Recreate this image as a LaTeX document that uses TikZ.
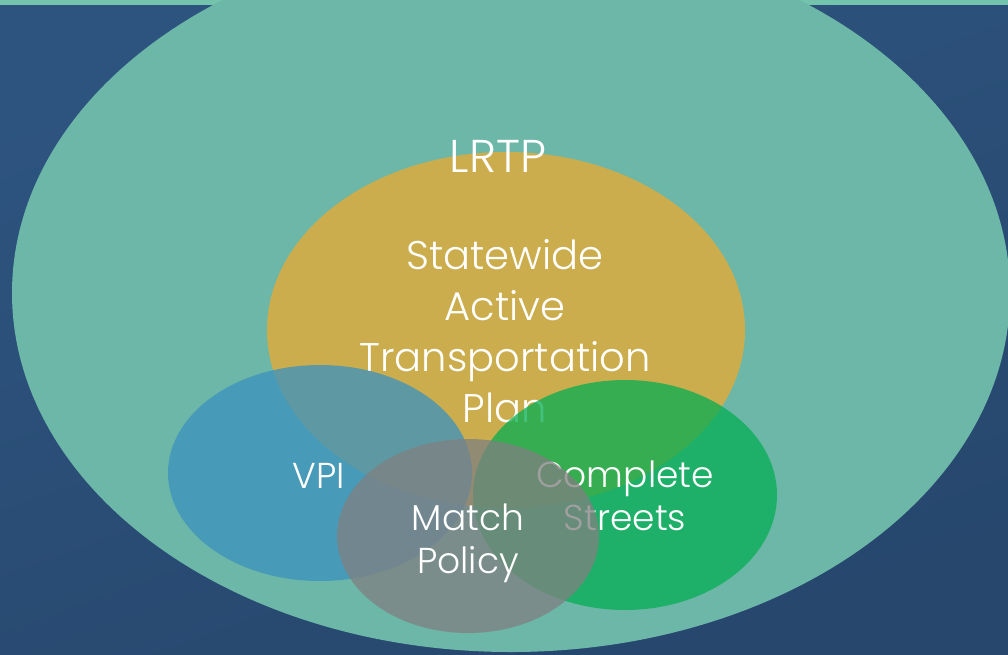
\documentclass[tikz,border=0pt]{standalone}
\usepackage{fontspec}
\setmainfont{Poppins Light}
\usepackage{tikz}
\usetikzlibrary{shapes.geometric}

\definecolor{bgtop}{RGB}{45,84,127}
\definecolor{bgbot}{RGB}{39,71,109}
\definecolor{stripcol}{RGB}{116,195,173}
\definecolor{tealcol}{RGB}{108,183,168}
\definecolor{yellowcol}{RGB}{203,173,78}
\definecolor{bluecol}{RGB}{60,147,190}
\definecolor{greencol}{RGB}{5,174,83}
\definecolor{graycol}{RGB}{128,128,128}

\tikzset{
  blob/.style={ellipse, inner sep=0pt, draw=none},
  lbl/.style={text=white, align=center, anchor=base, inner sep=0pt},
  big/.style={font=\fontsize{40}{51}\selectfont},
  small/.style={font=\fontsize{36}{43}\selectfont}
}

\begin{document}
\begin{tikzpicture}[x=1pt,y=-1pt]
\useasboundingbox (0,0) rectangle (1008,654);
\clip (0,0) rectangle (1008,654);

% Background
\shade[top color=bgtop, bottom color=bgbot, shading angle=20] (0,0) rectangle (1008,654);
\fill[stripcol] (0,0) rectangle (1008,5);

% Outer plan
\node[blob, fill=tealcol, minimum width=998pt, minimum height=718pt] (lrtp) at (511,293) {};

% Statewide plan
\node[blob, fill=yellowcol, minimum width=478pt, minimum height=356pt] (satp) at (506,330) {};
\node[lbl, font=\fontsize{46}{54}\selectfont] (lrtplbl) at (498,172) {LRTP};
\node[lbl, big] (satplbl) at (505,422) {Statewide\\Active\\Transportation\\Plan};

% Overlapping circles
\node[blob, fill=bluecol, fill opacity=0.76, minimum width=304pt, minimum height=216pt] (vpi) at (320,473) {};
\node[lbl, small] (vpilbl) at (319,488) {VPI};

\node[blob, fill=greencol, fill opacity=0.75, minimum width=304pt, minimum height=230pt] (cs) at (625,495) {};
\node[lbl, small] (cslbl) at (625,530) {Complete\\Streets};

\node[blob, fill=graycol, fill opacity=0.75, minimum width=262pt, minimum height=194pt] (mp) at (468,536) {};
\node[lbl, small] (mplbl) at (468,573) {Match\\Policy};
\end{tikzpicture}
\end{document}
